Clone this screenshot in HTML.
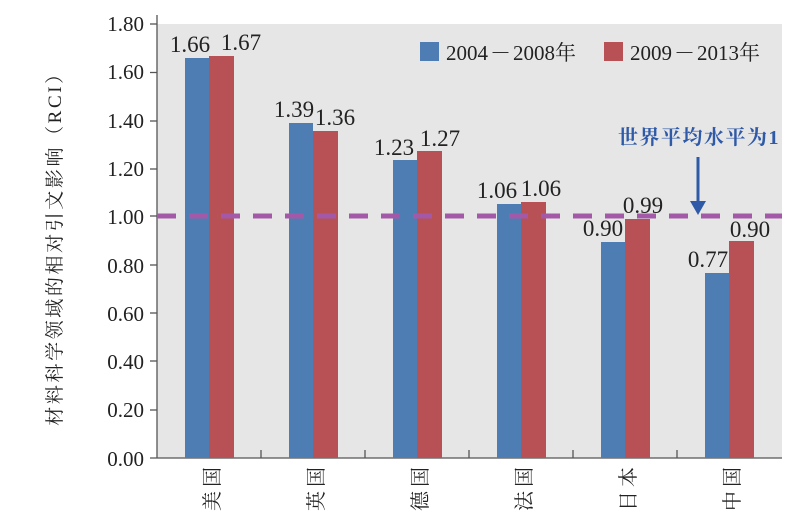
<!DOCTYPE html>
<html><head><meta charset="utf-8"><style>body{margin:0;background:#fff}svg{display:block}</style></head>
<body>
<svg width="804" height="516" xmlns="http://www.w3.org/2000/svg" font-family="Liberation Serif, Noto Serif CJK SC, serif">
<rect x="157" y="24" width="625" height="434" fill="#e6e6e6"/>
<g font-size="21" fill="#222" text-anchor="end">
<text x="144" y="31">1.80</text><text x="144" y="79">1.60</text><text x="144" y="128">1.40</text>
<text x="144" y="176">1.20</text><text x="144" y="224">1.00</text><text x="144" y="273">0.80</text>
<text x="144" y="321">0.60</text><text x="144" y="369">0.40</text><text x="144" y="417">0.20</text>
<text x="144" y="466">0.00</text>
</g>
<g stroke="#555" stroke-width="1.3">
<line x1="157" y1="15" x2="157" y2="458"/><line x1="150" y1="458" x2="782" y2="458"/>
<line x1="150" y1="24" x2="157" y2="24"/><line x1="150" y1="72.5" x2="157" y2="72.5"/><line x1="150" y1="121" x2="157" y2="121"/>
<line x1="150" y1="169" x2="157" y2="169"/><line x1="150" y1="216" x2="157" y2="216"/><line x1="150" y1="265" x2="157" y2="265"/>
<line x1="150" y1="313" x2="157" y2="313"/><line x1="150" y1="361" x2="157" y2="361"/><line x1="150" y1="410" x2="157" y2="410"/>
<line x1="261" y1="450" x2="261" y2="458"/><line x1="365" y1="450" x2="365" y2="458"/><line x1="469" y1="450" x2="469" y2="458"/>
<line x1="573" y1="450" x2="573" y2="458"/><line x1="677" y1="450" x2="677" y2="458"/>
</g>
<g>
<rect x="185" y="58" width="24" height="400" fill="#4e7db3"/><rect x="209" y="56" width="25" height="402" fill="#b85156"/>
<rect x="289" y="123" width="24" height="335" fill="#4e7db3"/><rect x="313" y="131" width="25" height="327" fill="#b85156"/>
<rect x="393" y="160" width="24" height="298" fill="#4e7db3"/><rect x="417" y="151" width="25" height="307" fill="#b85156"/>
<rect x="497" y="204" width="24" height="254" fill="#4e7db3"/><rect x="521" y="202" width="25" height="256" fill="#b85156"/>
<rect x="601" y="242" width="24" height="216" fill="#4e7db3"/><rect x="625" y="219" width="25" height="239" fill="#b85156"/>
<rect x="705" y="273" width="24" height="185" fill="#4e7db3"/><rect x="729" y="241" width="25" height="217" fill="#b85156"/>
</g>
<line x1="157" y1="216" x2="782" y2="216" stroke="#a459a8" stroke-width="5" stroke-dasharray="19,13"/>
<g font-size="23" fill="#222" text-anchor="middle">
<text x="190" y="52">1.66</text><text x="241" y="50">1.67</text>
<text x="294" y="117">1.39</text><text x="335" y="125">1.36</text>
<text x="394" y="155">1.23</text><text x="440" y="146">1.27</text>
<text x="497" y="198">1.06</text><text x="541" y="196">1.06</text>
<text x="603" y="236">0.90</text><text x="643" y="213">0.99</text>
<text x="708" y="267">0.77</text><text x="750" y="237">0.90</text>
</g>
<rect x="420" y="42" width="19" height="19" fill="#4e7db3"/>
<text x="446" y="60" font-size="21" fill="#222">2004<tspan dx="2">－</tspan><tspan dx="2">2008年</tspan></text>
<rect x="604" y="42" width="19" height="19" fill="#b85156"/>
<text x="630" y="60" font-size="21" fill="#222">2009<tspan dx="2">－</tspan><tspan dx="2">2013年</tspan></text>
<text x="780" y="144" font-size="20" font-weight="bold" fill="#2f5aa8" text-anchor="end" letter-spacing="1.5">世界平均水平为1</text>
<line x1="698" y1="157" x2="698" y2="207" stroke="#2f5aa8" stroke-width="3"/>
<path d="M690 201 L698 215 L706 201 Z" fill="#2f5aa8"/>
<text transform="translate(61,244) rotate(-90)" font-size="19" fill="#222" text-anchor="middle" letter-spacing="2.6">材料科学领域的相对引文影响（RCI）</text>
<g font-size="20" fill="#222" text-anchor="middle" letter-spacing="4">
<text transform="translate(219,487) rotate(-90)">美国</text>
<text transform="translate(323,487) rotate(-90)">英国</text>
<text transform="translate(427,487) rotate(-90)">德国</text>
<text transform="translate(531,487) rotate(-90)">法国</text>
<text transform="translate(635,487) rotate(-90)">日本</text>
<text transform="translate(739,487) rotate(-90)">中国</text>
</g>
</svg>
</body></html>
